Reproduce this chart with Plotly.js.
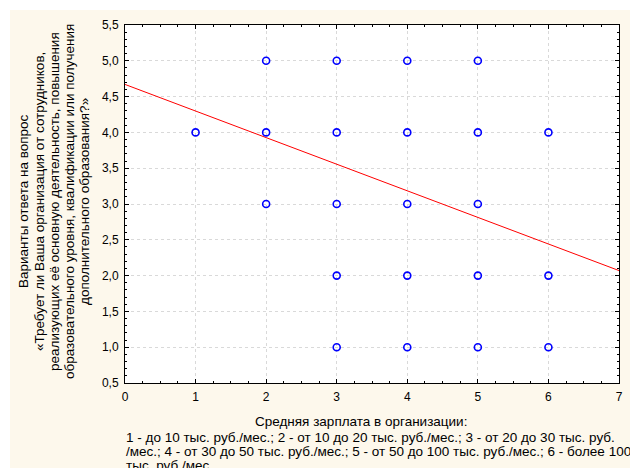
<!DOCTYPE html>
<html>
<head>
<meta charset="utf-8">
<script src="https://cdn.plot.ly/plotly-3.0.1.min.js"></script>
<style>
html,body{margin:0;padding:0;background:#ffffff;width:630px;height:468px;overflow:hidden;}
#chart{position:absolute;left:10px;top:10px;width:620px;height:458px;}
</style>
</head>
<body>
<div id="chart"></div>
<script>
// Data
const salaryCategory = [1, 2, 2, 2, 3, 3, 3, 3, 3, 4, 4, 4, 4, 4, 5, 5, 5, 5, 5, 6, 6, 6];
const answerVariant  = [4, 5, 4, 3, 5, 4, 3, 2, 1, 5, 4, 3, 2, 1, 5, 4, 3, 2, 1, 4, 2, 1];
const fitX = [0, 7];
const fitY = [4.67, 2.07];
const yTickVals = [0.5, 1.0, 1.5, 2.0, 2.5, 3.0, 3.5, 4.0, 4.5, 5.0, 5.5];
const xTickVals = [0, 1, 2, 3, 4, 5, 6, 7];

const yTitleLines = [
  'Варианты ответа на вопрос',
  '«Требует ли Ваша организация от сотрудников,',
  'реализующих её основную деятельность, повышения',
  'образовательного уровня, квалификации или получения',
  'дополнительного образования?»'
];
const xTitle = 'Средняя зарплата в организации:';
const xNoteLines = [
  '1 - до 10 тыс. руб./мес.; 2 - от 10 до 20 тыс. руб./мес.; 3 - от 20 до 30 тыс. руб.',
  '/мес.; 4 - от 30 до 50 тыс. руб./мес.; 5 - от 50 до 100 тыс. руб./мес.; 6 - более 100',
  'тыс. руб./мес.'
];

const FONT = 'Liberation Sans, Arial, sans-serif';
const TITLE_SIZE = 13.5;

const traces = [
  {
    x: fitX, y: fitY, type: 'scatter', mode: 'lines',
    line: {color: '#ff0000', width: 1}, hoverinfo: 'skip', showlegend: false
  },
  {
    x: salaryCategory, y: answerVariant, type: 'scatter', mode: 'markers',
    marker: {symbol: 'circle-open', size: 7, color: '#0000ff', line: {width: 1.6, color: '#0000ff'}},
    showlegend: false
  }
];

const axisCommon = {
  showline: true, linecolor: '#000000', linewidth: 1, mirror: 'ticks',
  ticks: 'inside', ticklen: 4, tickcolor: '#000000', tickwidth: 1,
  showgrid: true, gridcolor: '#d9d9d9', griddash: 'dot', gridwidth: 1,
  zeroline: false, tickfont: {family: FONT, size: 12, color: '#000000'},
  ticklabelstandoff: 3
};

const annotations = [];
// y-axis title lines (rotated), centred on the plot's vertical middle
const yShifts = [-102, -86, -71, -56, -41];
yTitleLines.forEach((t, i) => {
  annotations.push({
    text: t, xref: 'paper', yref: 'paper', x: 0, y: 0.5, xshift: yShifts[i], yshift: 2,
    xanchor: 'center', yanchor: 'middle', textangle: -90, showarrow: false,
    font: {family: FONT, size: TITLE_SIZE, color: '#000000'}
  });
});
// x-axis title (first line, centred)
annotations.push({
  text: xTitle, xref: 'paper', yref: 'paper', x: 0.5, y: 0, xshift: -11, yshift: -38,
  xanchor: 'center', yanchor: 'middle', showarrow: false,
  font: {family: FONT, size: TITLE_SIZE, color: '#000000'}
});
// x-axis explanation lines (left-aligned)
const noteShifts = [-54, -68, -82];
xNoteLines.forEach((t, i) => {
  annotations.push({
    text: t, xref: 'paper', yref: 'paper', x: 0, y: 0, xshift: -1, yshift: noteShifts[i],
    xanchor: 'left', yanchor: 'middle', align: 'left', showarrow: false,
    font: {family: FONT, size: TITLE_SIZE, color: '#000000'}
  });
});

const layout = {
  width: 620, height: 458,
  paper_bgcolor: '#fdf8ec', plot_bgcolor: '#ffffff',
  separators: ', ',
  margin: {l: 115, r: 11, t: 15, b: 85},
  font: {family: FONT, size: 12, color: '#000000'},
  xaxis: Object.assign({}, axisCommon, {
    range: [0, 7], tickvals: xTickVals, ticktext: xTickVals.map(String),
    minor: {dtick: 0.25, ticks: 'inside', ticklen: 2, tickcolor: '#000000', showgrid: false}
  }),
  yaxis: Object.assign({}, axisCommon, {
    range: [0.5, 5.5], tickvals: yTickVals, tickformat: '.1f',
    minor: {dtick: 0.1, ticks: 'inside', ticklen: 2, tickcolor: '#000000', showgrid: false}
  }),
  annotations: annotations
};

Plotly.newPlot('chart', traces, layout, {displayModeBar: false, staticPlot: true});
</script>
</body>
</html>
